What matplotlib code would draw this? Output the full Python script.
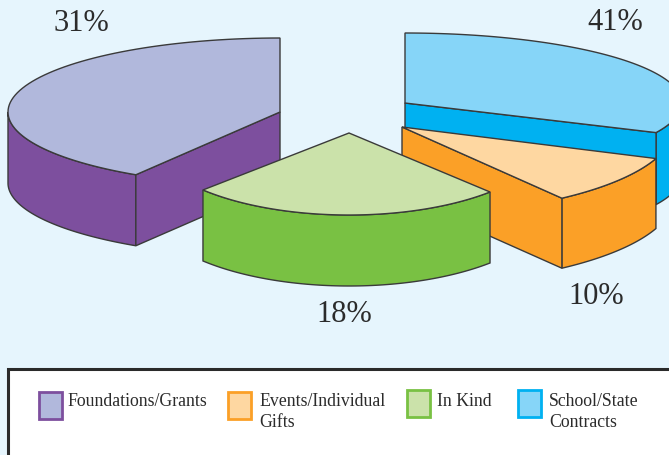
import numpy as np
import matplotlib.pyplot as plt
from matplotlib.patches import Polygon, Rectangle

plt.rcParams['font.family'] = ['Liberation Serif', 'DejaVu Serif']

# slices, back to front so the nearer ones cover the others
names = ['School/State\nContracts', 'Foundations/Grants', 'Events/Individual\nGifts', 'In Kind']
shares = [41, 31, 10, 18]
top_colors = ['#86D5F8', '#B1B8DC', '#FED7A1', '#CBE2AA']
side_colors = ['#00B1F1', '#7D4F9E', '#FBA027', '#79C143']

# wedge geometry (pixels, angles on the ellipse in degrees)
apex_x = [405, 280, 402, 349]
apex_y = [104, 113, 128, 134]
radius_x = [277, 272, 272, 203]
radius_y = [70, 74, 88, 82]
angle_from = [-25, 90, -54, 224]
angle_to = [90, 238, -21, 314]
depth = [72, 71, 70, 71]
# which part of the rim and which flat cut face show below the top
rim_from = [-25, 180, -54, 224]
rim_to = [0, 238, -21, 314]
cut_angle = [-25, 238, -54, None]

label_x = [615, 81, 596, 344]
label_y = [30, 31, 304, 322]

# legend order as printed
legend_order = [1, 2, 3, 0]
swatch_x = [39, 228, 407, 518]
swatch_y = [393, 393, 391, 391]
legend_text_x = [67, 259, 437, 549]
legend_text_y = [406, 406, 406, 406]

edge = '#3A3A3A'


def rim(i, a, b):
    t = np.radians(np.linspace(a, b, 80))
    return apex_x[i] + radius_x[i] * np.cos(t), apex_y[i] - radius_y[i] * np.sin(t)


fig = plt.figure(figsize=(6.69, 4.56), dpi=100, facecolor='#E6F5FD')
ax = fig.add_axes([0, 0, 1, 1])
ax.set_xlim(0, 669)
ax.set_ylim(456, 0)
ax.axis('off')

for i in range(len(names)):
    z = i * 3 + 1
    # outer side
    x, y = rim(i, rim_from[i], rim_to[i])
    pts = np.r_[np.c_[x, y], np.c_[x, y + depth[i]][::-1]]
    ax.add_patch(Polygon(pts, closed=True, fc=side_colors[i], ec=edge, lw=1.0, zorder=z))
    # flat cut side
    if cut_angle[i] is not None:
        x, y = rim(i, cut_angle[i], cut_angle[i])
        pts = [(apex_x[i], apex_y[i]), (x[0], y[0]), (x[0], y[0] + depth[i]), (apex_x[i], apex_y[i] + depth[i])]
        ax.add_patch(Polygon(pts, closed=True, fc=side_colors[i], ec=edge, lw=1.0, zorder=z + 1))
    # top
    x, y = rim(i, angle_from[i], angle_to[i])
    pts = np.r_[[[apex_x[i], apex_y[i]]], np.c_[x, y]]
    ax.add_patch(Polygon(pts, closed=True, fc=top_colors[i], ec=edge, lw=1.0, zorder=z + 2))
    ax.text(label_x[i], label_y[i], f'{shares[i]}%', fontsize=22, color='#2B2B2B',
            ha='center', va='baseline', zorder=20)

# legend box runs off the right and bottom of the picture
ax.add_patch(Rectangle((8, 370), 700, 120, fc='white', ec='#2A2A2A', lw=2.2, zorder=21))

for k, i in enumerate(legend_order):
    ax.add_patch(Rectangle((swatch_x[k], swatch_y[k]), 23, 27, fc=top_colors[i], ec=side_colors[i],
                           lw=2.0, zorder=22))
    for n, line in enumerate(names[i].split('\n')):
        ax.text(legend_text_x[k], legend_text_y[k] + n * 21, line, fontsize=12.8, color='#2B2B2B',
                va='baseline', zorder=22)

fig.savefig('out.png', dpi=100, facecolor=fig.get_facecolor())
